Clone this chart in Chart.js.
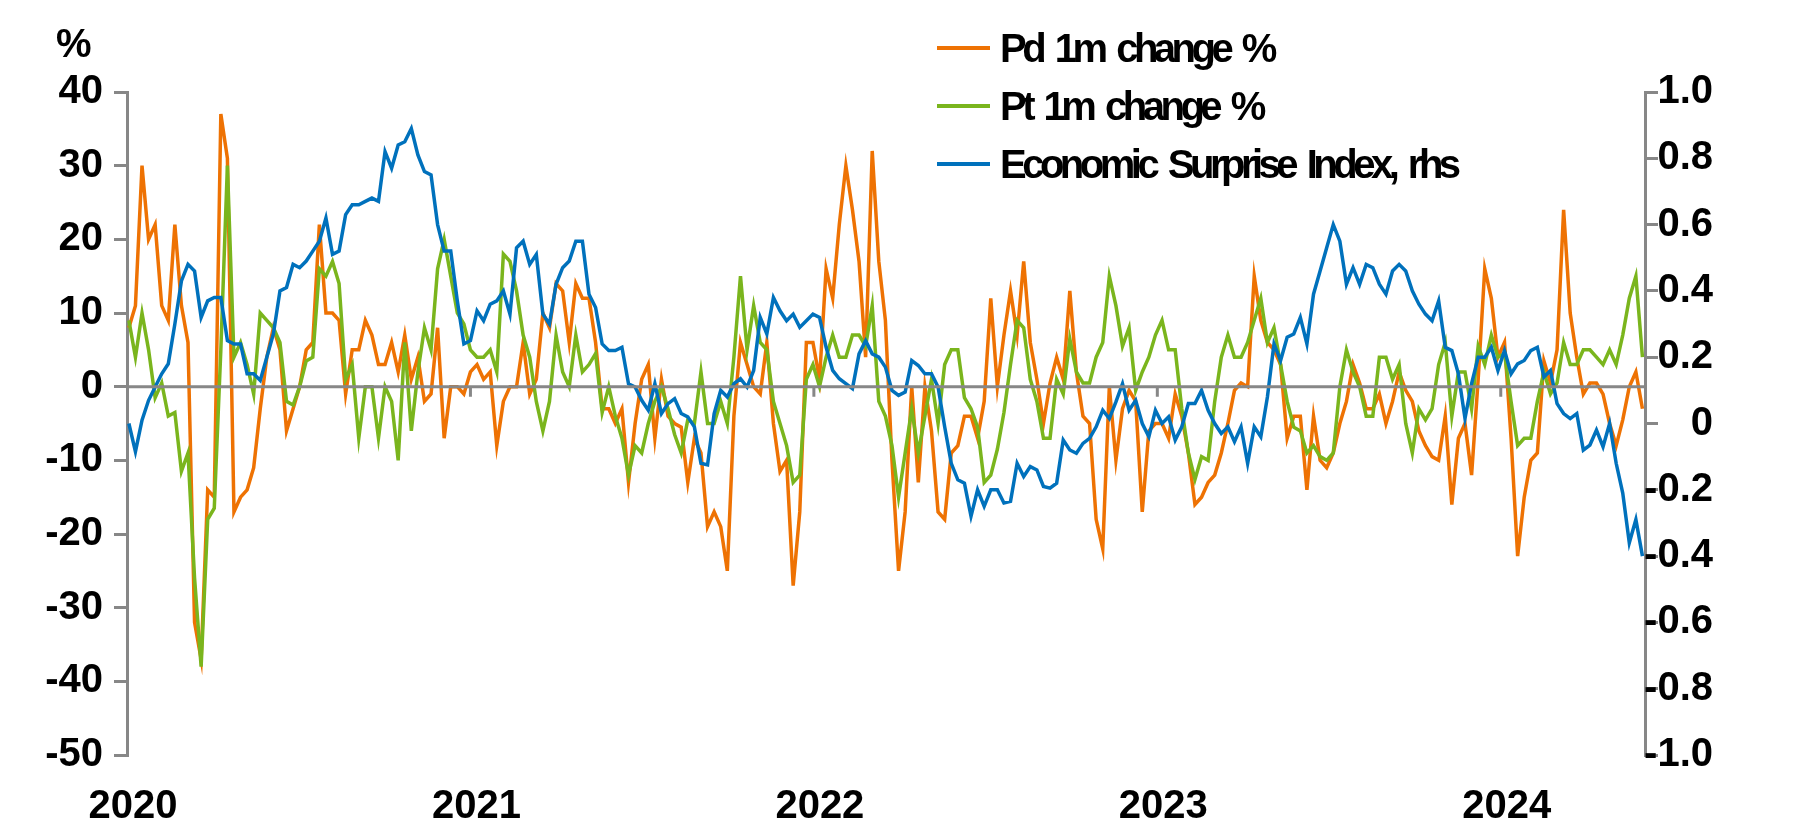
<!DOCTYPE html>
<html>
<head>
<meta charset="utf-8">
<script src="https://cdn.jsdelivr.net/npm/chart.js@4.4.0/dist/chart.umd.min.js"></script>
<style>
  html, body { margin: 0; padding: 0; background: #fff; }
  #wrap { width: 1803px; height: 840px; }
</style>
</head>
<body>
<div id="wrap"><canvas id="chart" width="1803" height="840"></canvas></div>
<script>
// ---------------------------------------------------------------------
// DATA  (weekly readings, first week ending 3 Jan 2020)
// ---------------------------------------------------------------------
const seriesNames = ['Pd 1m change %', 'Pt 1m change %', 'Economic Surprise Index, rhs'];
const yearTicks = [2020, 2021, 2022, 2023, 2024];

const pdChange = [
    8, 11, 30, 20, 22, 11, 9, 22, 11, 6,
    -32, -37, -14, -15, 37, 31, -17, -15, -14, -11,
    -3, 4, 8, 5, -6, -3, 0, 5, 6, 22,
    10, 10, 9, -1, 5, 5, 9, 7, 3, 3,
    6, 2, 7, 1, 4, -2, -1, 8, -7, 0,
    0, -1, 2, 3, 1, 2, -8, -2, 0, 0,
    6, -1, 1, 10, 8, 14, 13, 6, 14, 12,
    12, 6, -3, -3, -5, -3, -13, -5, 1, 3,
    -7, 1, -4, -5, -5.5, -13, -7, -9, -19, -17,
    -19, -25, -4, 6, 3, 0, -1, 6, -5, -11.5,
    -10, -27, -17, 6, 6, 1, 16, 12, 22, 30,
    24, 17, 4, 32, 17, 9, -10, -25, -17, 0,
    -13, 0, -6, -17, -18, -9, -8, -4, -4, -7,
    -2, 12, 0, 7, 13, 7, 17, 6, 1, -5,
    0.5, 4, 1, 13, 2, -4, -5, -18, -22, 0,
    -10, -3, -0.5, -2, -17, -6, -5, -5, -7, -1,
    -4, -9, -16, -15, -13, -12, -9, -5, -0.5, 0.5,
    0, 15, 9, 6, 5, 3, -7, -4, -4, -14,
    -4, -10, -11, -9, -5, -2, 3, 0.5, -3, -3,
    -1, -5, -2, 2, -0.5, -2, -6, -8, -9.5, -10,
    -4, -16, -7, -5, -12, 1, 16, 12, 4, 6,
    -7, -23, -15, -10, -9, 3.5, 0.5, 5, 24, 10,
    4, -1, 0.5, 0.5, -1, -5, -8, -4.5, 0, 2, -3
];

const ptChange = [
    9, 4, 10, 5, -1.5, 0.5, -4, -3.5, -11.5, -9,
    -26, -38, -18, -16.5, 5, 30, 4, 6, 3, -1,
    10, 9, 8, 6, -2, -2.5, 0, 3.5, 4, 16,
    15, 17, 14, 1, 3, -7, 0, 0, -7, 0,
    -2, -10, 6, -6, 2, 8, 5, 16, 20, 15,
    10, 8.5, 5, 4, 4, 5, 2, 18, 17, 13,
    7, 4, -2, -6, -2, 7, 2, 0, 7, 2,
    3, 4.5, -3.5, 0, -4, -7, -12, -8, -9, -5,
    -2, 0, -3, -6.5, -9, -4.5, -5, 2, -5, -5,
    -2, -5, 4, 15, 5, 11, 6, 5, -2, -5,
    -8, -13, -12, 1, 3, 0, 4, 7, 4, 4,
    7, 7, 5.5, 11, -2, -4, -8, -15, -9, -3,
    -9, -4, 1, -5, 3, 5, 5, -1.5, -3, -5.5,
    -13, -12, -8.5, -3.5, 3, 9, 8, 1, -2, -7,
    -7, 1, -1, 6.5, 2, 0.5, 0.5, 4, 6, 15,
    11, 5.5, 8, -0.5, 2, 4, 7, 9, 5, 5,
    -3, -9, -12.6, -9.5, -10, -2, 4, 7, 4, 4,
    6, 9, 12, 6, 8, 3, -2, -5.5, -6, -9,
    -8, -9.5, -10, -9, 0, 5, 2, 0, -4, -4,
    4, 4, 1, 3, -5, -9, -3, -4.5, -3, 3,
    6, -4, 2, 2, -3, 5.5, 3, 7, 4, 4.5,
    -2, -8, -7, -7, -2, 2, -1, 0.5, 6, 3,
    3, 5, 5, 4, 3, 5, 3, 7, 12, 15, 4
];

const surpriseIndex = [
    0, -0.085, 0.01, 0.07, 0.11, 0.15, 0.18, 0.30, 0.43, 0.48,
    0.46, 0.32, 0.37, 0.38, 0.38, 0.25, 0.24, 0.24, 0.15, 0.15,
    0.13, 0.20, 0.27, 0.40, 0.41, 0.48, 0.47, 0.49, 0.52, 0.55,
    0.62, 0.51, 0.52, 0.63, 0.66, 0.66, 0.67, 0.68, 0.67, 0.82,
    0.77, 0.84, 0.85, 0.89, 0.81, 0.76, 0.75, 0.60, 0.52, 0.52,
    0.37, 0.24, 0.25, 0.34, 0.31, 0.36, 0.37, 0.40, 0.33, 0.53,
    0.55, 0.48, 0.51, 0.33, 0.30, 0.42, 0.47, 0.49, 0.55, 0.55,
    0.39, 0.35, 0.24, 0.22, 0.22, 0.23, 0.12, 0.11, 0.07, 0.04,
    0.12, 0.03, 0.06, 0.075, 0.03, 0.02, -0.01, -0.12, -0.125, 0.03,
    0.10, 0.08, 0.12, 0.135, 0.11, 0.16, 0.32, 0.27, 0.38, 0.34,
    0.31, 0.33, 0.29, 0.31, 0.33, 0.32, 0.23, 0.16, 0.135, 0.12,
    0.105, 0.21, 0.25, 0.21, 0.20, 0.17, 0.10, 0.085, 0.095, 0.19,
    0.175, 0.15, 0.15, 0.11, -0.01, -0.12, -0.17, -0.18, -0.28, -0.2,
    -0.25, -0.2, -0.2, -0.24, -0.235, -0.12, -0.16, -0.13, -0.14, -0.19,
    -0.195, -0.18, -0.05, -0.08, -0.09, -0.06, -0.045, -0.01, 0.04, 0.015,
    0.065, 0.12, 0.04, 0.07, 0.0, -0.04, 0.04, 0.0, 0.02, -0.05,
    -0.01, 0.06, 0.06, 0.10, 0.04, 0.0, -0.03, -0.01, -0.055, -0.01,
    -0.12, -0.01, -0.04, 0.08, 0.24, 0.19, 0.26, 0.27, 0.32, 0.24,
    0.39, 0.46, 0.53, 0.6, 0.55, 0.42, 0.47, 0.42, 0.48, 0.47,
    0.42, 0.39, 0.46, 0.48, 0.46, 0.40, 0.36, 0.33, 0.31, 0.37,
    0.23, 0.22, 0.15, 0.015, 0.12, 0.2, 0.2, 0.23, 0.16, 0.22,
    0.15, 0.18, 0.19, 0.22, 0.23, 0.14, 0.16, 0.06, 0.03, 0.015,
    0.03, -0.08, -0.065, -0.02, -0.07, 0.0, -0.12, -0.21, -0.36, -0.29, -0.4
];

// weekly calendar -> decimal years for the linear x axis
const FIRST_WEEK = Date.UTC(2020, 0, 3);
const DAY_MS = 24 * 60 * 60 * 1000;
const weekDates = pdChange.map((_, i) => {
    const d = new Date(FIRST_WEEK + i * 7 * DAY_MS);
    const y = d.getUTCFullYear();
    const start = Date.UTC(y, 0, 1), end = Date.UTC(y + 1, 0, 1);
    return y + (d.getTime() - start) / (end - start);
});
const toPoints = vals => vals.map((v, i) => ({ x: weekDates[i], y: v }));

// ---------------------------------------------------------------------
// STYLE
// ---------------------------------------------------------------------
const COLORS = ['#EE7203', '#7AB51D', '#0071BC'];
const AXIS_GREY = '#878787';
const FONT_FAMILY = '"Liberation Sans", Arial, sans-serif';
const tickFont = { family: FONT_FAMILY, size: 40, weight: 'bold' };

// zero line, year ticks, "%" label and legend
const decorPlugin = {
    id: 'decor',
    afterDatasetsDraw(chart) {
        const { ctx, chartArea, scales } = chart;
        const y0 = scales.y.getPixelForValue(0);
        ctx.save();
        ctx.strokeStyle = AXIS_GREY;
        ctx.lineWidth = 3;
        ctx.beginPath();
        ctx.moveTo(chartArea.left, y0);
        ctx.lineTo(chartArea.right, y0);
        yearTicks.slice(1).forEach(yr => {
            const x = scales.x.getPixelForValue(yr);
            ctx.moveTo(x, y0);
            ctx.lineTo(x, y0 + 10);
        });
        ctx.stroke();
        ctx.restore();
    },
    afterDraw(chart) {
        const { ctx } = chart;
        ctx.save();
        ctx.fillStyle = '#000';
        ctx.font = `bold 40px ${FONT_FAMILY}`;
        ctx.textBaseline = 'middle';
        ctx.textAlign = 'left';
        ctx.fillText('%', 56, 46);

        // legend text is set tight, like the original
        ctx.letterSpacing = '-4.5px';
        ctx.wordSpacing = '6px';
        seriesNames.forEach((name, i) => {
            const y = 48 + i * 58;
            ctx.strokeStyle = COLORS[i];
            ctx.lineWidth = 4;
            ctx.beginPath();
            ctx.moveTo(937, y);
            ctx.lineTo(990, y);
            ctx.stroke();
            ctx.fillText(name, 1000, y + 3);
        });
        ctx.restore();
    }
};

new Chart(document.getElementById('chart').getContext('2d'), {
    type: 'line',
    data: {
        datasets: [
            { label: seriesNames[0], data: toPoints(pdChange), yAxisID: 'y', borderColor: COLORS[0], order: 3 },
            { label: seriesNames[1], data: toPoints(ptChange), yAxisID: 'y', borderColor: COLORS[1], order: 2 },
            { label: seriesNames[2], data: toPoints(surpriseIndex), yAxisID: 'y1', borderColor: COLORS[2], order: 1 }
        ]
    },
    plugins: [decorPlugin],
    options: {
        responsive: false,
        animation: false,
        layout: { padding: { top: 92, left: 0, right: 90, bottom: 0 } },
        elements: {
            line: { borderWidth: 3.5, tension: 0, fill: false },
            point: { radius: 0 }
        },
        plugins: {
            legend: { display: false },
            tooltip: { enabled: false }
        },
        scales: {
            x: {
                type: 'linear',
                min: 2020,
                max: 2024.42,
                grid: { display: false, drawTicks: false },
                border: { display: false },
                ticks: {
                    stepSize: 1,
                    includeBounds: false,
                    autoSkip: false,
                    maxRotation: 0,
                    padding: 28,
                    labelOffset: 6,
                    color: '#000',
                    font: tickFont,
                    callback: v => String(Math.round(v))
                },
                afterFit: s => { s.height = 85; }
            },
            y: {
                position: 'left',
                min: -50,
                max: 40,
                grid: { drawOnChartArea: false, color: AXIS_GREY, lineWidth: 3, tickLength: 13 },
                border: { color: AXIS_GREY, width: 3 },
                ticks: { stepSize: 10, padding: 11, color: '#000', font: tickFont },
                afterFit: s => { s.width = 127; }
            },
            y1: {
                position: 'right',
                min: -1,
                max: 1,
                grid: { drawOnChartArea: false, color: AXIS_GREY, lineWidth: 3, tickLength: 13 },
                border: { color: AXIS_GREY, width: 3 },
                ticks: {
                    stepSize: 0.2,
                    padding: 4,
                    crossAlign: 'far',
                    color: '#000',
                    font: tickFont,
                    callback: v => Math.abs(v) < 1e-9 ? '0' : v.toFixed(1)
                },
                afterFit: s => { s.width = 68; }
            }
        }
    }
});
</script>
</body>
</html>
